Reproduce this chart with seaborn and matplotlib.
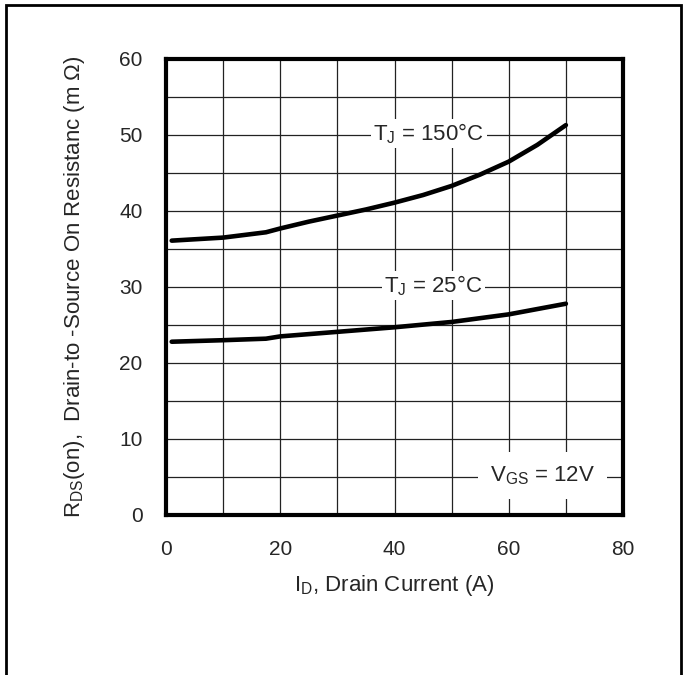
import numpy as np
import pandas as pd
import seaborn as sns
import matplotlib.pyplot as plt
from matplotlib.patches import Rectangle

# values
id_150 = [1, 10, 17.5, 20, 25, 30, 35, 40, 45, 50, 55, 60, 65, 70]
r_150 = [36.1, 36.5, 37.2, 37.7, 38.6, 39.4, 40.2, 41.1, 42.1, 43.3, 44.8, 46.5, 48.7, 51.3]
id_25 = [1, 10, 17.5, 20, 30, 40, 50, 55, 60, 65, 70]
r_25 = [22.8, 23.0, 23.2, 23.5, 24.1, 24.7, 25.4, 25.9, 26.4, 27.1, 27.8]

x_ticks = [0, 20, 40, 60, 80]
y_ticks = [0, 10, 20, 30, 40, 50, 60]

df = pd.concat([
    pd.DataFrame({"id": id_150, "r": r_150, "tj": "150"}),
    pd.DataFrame({"id": id_25, "r": r_25, "tj": "25"}),
])

sns.set_style("white")
plt.rcParams['font.family'] = ['Liberation Sans', 'DejaVu Sans']
plt.rcParams['mathtext.fontset'] = 'custom'
plt.rcParams['mathtext.rm'] = 'Liberation Sans'
plt.rcParams['mathtext.it'] = 'Liberation Sans:italic'

fig = plt.figure(figsize=(6.83, 6.75), dpi=100)
ax = fig.add_axes([166/683, 1-515/675, 457/683, 456/675])

sns.lineplot(data=df, x="id", y="r", units="tj", estimator=None,
             color="black", linewidth=3.3, ax=ax, zorder=5)

ax.set_xlim(0, 80)
ax.set_ylim(0, 60)
ax.set_xticks(x_ticks)
ax.set_xticks(np.arange(0, 81, 10), minor=True)
ax.set_yticks(y_ticks)
ax.set_yticks(np.arange(0, 61, 5), minor=True)
ax.set_axisbelow(True)
ax.grid(True, which="both", color="#222222", linewidth=0.9)
ax.tick_params(which="both", length=0)
ax.tick_params(axis="x", pad=18, labelsize=15)
ax.tick_params(axis="y", pad=17, labelsize=15)
for s in ax.spines.values():
    s.set_linewidth(3)
    s.set_color("black")

ax.set_xlabel(r"I$_{\rm D}$, Drain Current (A)", fontsize=16, labelpad=10)
ax.set_ylabel(r"R$_{\rm DS}$(on),  Drain-to -Source On Resistanc (m Ω)",
              fontsize=16)
ax.yaxis.set_label_coords(-0.173, 0.5)

box = dict(facecolor="white", edgecolor="none", pad=2)
ax.text(46, 50.2, r"T$_{\rm J}$ = 150°C", fontsize=16, ha="center", va="center",
        bbox=box, zorder=4)
ax.text(46.8, 30.2, r"T$_{\rm J}$ = 25°C", fontsize=16, ha="center", va="center",
        bbox=box, zorder=4)
ax.text(65.9, 5.2, r"V$_{\rm GS}$ = 12V", fontsize=16, ha="center", va="center",
        bbox=dict(facecolor="white", edgecolor="none", pad=9), zorder=4)

fig.patches.append(Rectangle((6/683, -0.02), 675/683, 1.02 - 5/675,
                             transform=fig.transFigure, fill=False,
                             edgecolor="black", linewidth=2))

plt.savefig("out.png", dpi=100)
